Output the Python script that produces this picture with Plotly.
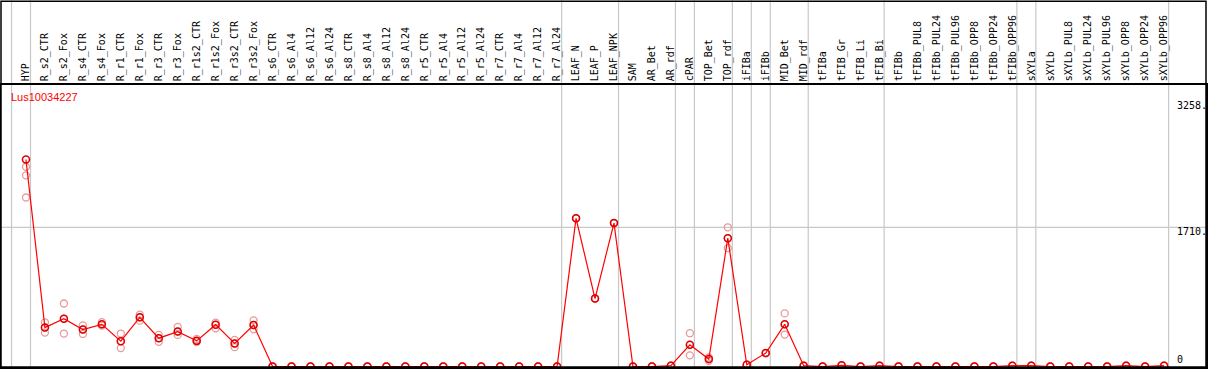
import plotly.graph_objects as go

categories = ["HYP", "R_s2_CTR", "R_s2_Fox", "R_s4_CTR", "R_s4_Fox", "R_r1_CTR", "R_r1_Fox",
              "R_r3_CTR", "R_r3_Fox", "R_r1s2_CTR", "R_r1s2_Fox", "R_r3s2_CTR", "R_r3s2_Fox",
              "R_s6_CTR", "R_s6_Al4", "R_s6_Al12", "R_s6_Al24", "R_s8_CTR", "R_s8_Al4", "R_s8_Al12",
              "R_s8_Al24", "R_r5_CTR", "R_r5_Al4", "R_r5_Al12", "R_r5_Al24", "R_r7_CTR", "R_r7_Al4",
              "R_r7_Al12", "R_r7_Al24", "LEAF_N", "LEAF_P", "LEAF_NPK", "SAM", "AR_Bet", "AR_rdf",
              "cPAR", "TOP_Bet", "TOP_rdf", "iFIBa", "iFIBb", "MID_Bet", "MID_rdf", "tFIBa",
              "tFIB_Gr", "tFIB_Li", "tFIB_Bi", "tFIBb", "tFIBb_PUL8", "tFIBb_PUL24", "tFIBb_PUL96",
              "tFIBb_OPP8", "tFIBb_OPP24", "tFIBb_OPP96", "sXYLa", "sXYLb", "sXYLb_PUL8",
              "sXYLb_PUL24", "sXYLb_PUL96", "sXYLb_OPP8", "sXYLb_OPP24", "sXYLb_OPP96"]

mean_vals = [2543, 478, 588, 454, 518, 311, 604, 348, 429, 315, 514, 283, 510,
             0, 0, 0, 0, 0, 0, 0, 0, 0, 0, 0, 0, 0, 0, 0, 0,
             1820, 835, 1762, 0, 0, 10, 266, 91, 1576, 22, 165, 518, 10,
             0, 15, 0, 10, 0, 0, 0, 0, 0, 0, 10, 10, 0, 0, 0, 0, 10, 0, 10]

rep_upper = [2454, 543, 774, 506, 546, 405, 637, 388, 486, 339, 539, 327, 567,
             0, 0, 0, 0, 0, 0, 0, 0, 0, 0, 0, 0, 0, 0, 0, 0,
             1820, 835, 1762, 0, 0, 10, 409, 112, 1710, 22, 165, 652, 10,
             0, 15, 0, 10, 0, 0, 0, 0, 0, 0, 10, 10, 0, 0, 0, 0, 10, 0, 10]

rep_lower = [2076, 417, 405, 400, 502, 226, 563, 303, 388, 299, 470, 238, 457,
             0, 0, 0, 0, 0, 0, 0, 0, 0, 0, 0, 0, 0, 0, 0, 0,
             1820, 835, 1762, 0, 0, 10, 137, 71, 1454, 22, 165, 392, 10,
             0, 15, 0, 10, 0, 0, 0, 0, 0, 0, 10, 10, 0, 0, 0, 0, 10, 0, 10]

rep_mid = [2348, 478, 588, 454, 518, 311, 604, 348, 429, 315, 514, 283, 510,
           0, 0, 0, 0, 0, 0, 0, 0, 0, 0, 0, 0, 0, 0, 0, 0,
           1820, 835, 1762, 0, 0, 10, 266, 91, 1576, 22, 165, 518, 10,
           0, 15, 0, 10, 0, 0, 0, 0, 0, 0, 10, 10, 0, 0, 0, 0, 10, 0, 10]

group_ends = [-1, 0, 28, 31, 34, 35, 37, 38, 39, 41, 45, 52, 53, 60]
gene_name = "Lus10034227"
axis_labels = [(3258, "3258."), (1710, "1710."), (0, "0")]

xs = list(range(len(categories)))

fig = go.Figure()
light = "#e89a9a"
for reps in (rep_upper, rep_mid, rep_lower):
    fig.add_trace(go.Scatter(x=xs, y=reps, mode="markers",
                             marker=dict(symbol="circle-open", size=7, color=light,
                                         line=dict(width=1.3, color=light)),
                             showlegend=False, hoverinfo="skip"))
fig.add_trace(go.Scatter(x=xs, y=mean_vals, mode="lines+markers",
                         line=dict(color="#ff0000", width=1.2),
                         marker=dict(symbol="circle-open", size=7, color="#e00000",
                                     line=dict(width=1.5, color="#e00000")),
                         showlegend=False))

shapes = []
for g in group_ends:
    shapes.append(dict(type="line", xref="x", yref="paper", x0=g + 0.24, x1=g + 0.24,
                       y0=0, y1=1.31, line=dict(color="#c8c8c8", width=1.2), layer="below"))
shapes.append(dict(type="line", xref="paper", yref="y", x0=0, x1=1, y0=1710, y1=1710,
                   line=dict(color="#c8c8c8", width=1.2), layer="below"))
shapes.append(dict(type="rect", xref="paper", yref="paper", x0=0, x1=1, y0=0, y1=1.297,
                   line=dict(color="black", width=1.5), fillcolor="rgba(0,0,0,0)"))

annotations = [dict(text=gene_name, xref="paper", yref="paper", x=0.0066, y=0.957,
                    xanchor="left", yanchor="middle", showarrow=False,
                    font=dict(family="Liberation Sans", size=11, color="#ff0000"))]
for val, txt in axis_labels:
    annotations.append(dict(text=txt, xref="paper", yref="y", x=0.974, y=val,
                            xanchor="left", yanchor="middle", showarrow=False,
                            yshift=(-4 if val > 0 else 7),
                            font=dict(family="DejaVu Sans Mono", size=10, color="black")))

fig.update_layout(
    width=1209, height=370,
    margin=dict(l=1, r=1, t=85, b=1),
    paper_bgcolor="white", plot_bgcolor="white",
    shapes=shapes, annotations=annotations,
    xaxis=dict(range=[-1.316, 62.21], side="top", tickmode="array", tickvals=xs,
               ticktext=categories, tickangle=-90, showgrid=False, zeroline=False,
               showline=True, linecolor="black", linewidth=1.5, mirror=True, ticks="",
               tickfont=dict(family="DejaVu Sans Mono", size=10, color="black")),
    yaxis=dict(range=[-6, 3458], showgrid=False, zeroline=False, showticklabels=False,
               showline=True, linecolor="black", linewidth=1.5, mirror=True, ticks=""),
)

fig.write_html("out.html", config={"displayModeBar": False},
               post_script="document.body.style.margin='0';document.body.style.overflow='hidden';")
